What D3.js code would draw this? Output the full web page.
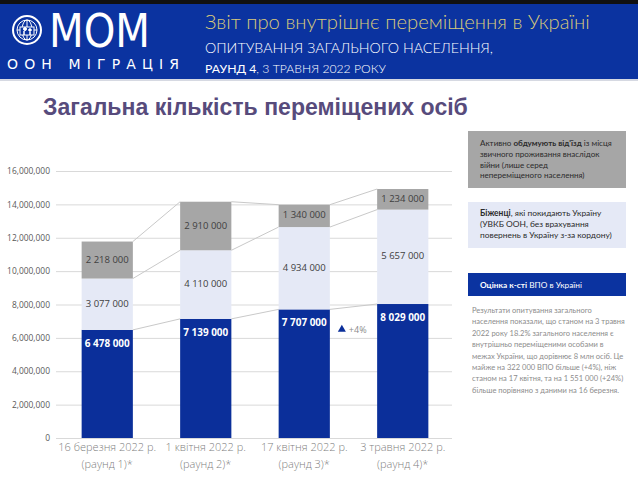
<!DOCTYPE html>
<html>
<head>
<meta charset="utf-8">
<script src="https://cdn.jsdelivr.net/npm/d3@7"></script>
<style>
  html, body { margin: 0; padding: 0; background: #fff; }
  svg { display: block; }
</style>
</head>
<body>
<svg id="chart" width="638" height="478"></svg>
<script>
// chart data
const categories = ["r1", "r2", "r3", "r4"];
const dateLabels = ["16 березня 2022 р.", "1 квітня 2022 р.", "17 квітня 2022 р.", "3 травня 2022 р."];
const roundLabels = ["(раунд 1)*", "(раунд 2)*", "(раунд 3)*", "(раунд 4)*"];
const idps = [6478000, 7139000, 7707000, 8029000];
const refugees = [3077000, 4110000, 4934000, 5657000];
const considering = [2218000, 2910000, 1340000, 1234000];
const yTicks = [0, 2000000, 4000000, 6000000, 8000000, 10000000, 12000000, 14000000, 16000000];

const svg = d3.select("#chart");

// scale a text's font so that one measured node spans the given width
function fitSize(sel, node, w) {
  const cur = +sel.attr("font-size");
  const len = node.getComputedTextLength();
  if (len > 0) sel.attr("font-size", (cur * w / len).toFixed(2));
}

// header band
svg.append("rect").attr("x", 0).attr("y", 0).attr("width", 638).attr("height", 4).attr("fill", "#111");
svg.append("rect").attr("x", 0).attr("y", 4).attr("width", 638).attr("height", 75).attr("fill", "#0b33a0");
svg.append("rect").attr("x", 0).attr("y", 79).attr("width", 638).attr("height", 2).attr("fill", "#d6d9e2");

// logo emblem
const logo = svg.append("g").attr("transform", "translate(27,30)").attr("fill", "none").attr("stroke", "#fff");
logo.append("circle").attr("r", 14).attr("stroke-width", 2);
logo.append("circle").attr("r", 10).attr("stroke-width", 1);
logo.append("ellipse").attr("rx", 5).attr("ry", 10).attr("stroke-width", 1);
logo.append("line").attr("x1", -10).attr("x2", 10).attr("y1", 0).attr("y2", 0).attr("stroke-width", 1);
logo.append("line").attr("x1", 0).attr("x2", 0).attr("y1", -10).attr("y2", 10).attr("stroke-width", 1);
logo.append("rect").attr("x", -7).attr("y", -3).attr("width", 14).attr("height", 8).attr("fill", "#0b33a0").attr("stroke-width", 1);
logo.append("circle").attr("cx", -2).attr("cy", -1).attr("r", 1.5).attr("fill", "#fff");
logo.append("circle").attr("cx", 3).attr("cy", 0).attr("r", 1.3).attr("fill", "#fff");
logo.append("path").attr("d", "M-3,1 L-3,5 M3,2 L3,5").attr("stroke-width", 1.5);

const mom = svg.append("text").attr("x", 49).attr("y", 47).attr("fill", "#fff")
  .attr("font-family", "'DejaVu Sans', sans-serif").attr("font-size", 46).attr("font-weight", 400)
  .attr("textLength", 101).attr("lengthAdjust", "spacingAndGlyphs").text("МОМ");
svg.append("text").attr("x", 7).attr("y", 69).attr("fill", "#fff")
  .attr("font-family", "'DejaVu Sans', sans-serif").attr("font-size", 14)
  .attr("textLength", 172).text("ООН МІГРАЦІЯ");

const h1 = svg.append("text").attr("x", 205).attr("y", 29).attr("fill", "#d8c97b")
  .attr("font-family", "Lato, sans-serif").attr("font-size", 20).attr("font-weight", 300)
  .text("Звіт про внутрішнє переміщення в Україні");
fitSize(h1, h1.node(), 385);
const h2 = svg.append("text").attr("x", 205).attr("y", 53).attr("fill", "#fff")
  .attr("font-family", "Lato, sans-serif").attr("font-size", 14).attr("font-weight", 300)
  .text("ОПИТУВАННЯ ЗАГАЛЬНОГО НАСЕЛЕННЯ,");
fitSize(h2, h2.node(), 288);
const r4 = svg.append("text").attr("x", 205).attr("y", 73).attr("fill", "#fff")
  .attr("font-family", "Lato, sans-serif").attr("font-size", 14);
r4.append("tspan").attr("font-weight", 400).text("РАУНД 4");
r4.append("tspan").attr("font-weight", 300).text(", 3 ТРАВНЯ 2022 РОКУ");
fitSize(r4, r4.node(), 181);

// title
const title = svg.append("text").attr("x", 43).attr("y", 115).attr("fill", "#574b7c")
  .attr("font-family", "'Liberation Sans', Arial, sans-serif").attr("font-size", 21).attr("font-weight", 700)
  .text("Загальна кількість переміщених осіб");
fitSize(title, title.node(), 425);

// scales
const x = d3.scaleBand().domain(categories).range([58, 452]).paddingInner(0.48).paddingOuter(0.24);
const y = d3.scaleLinear().domain([0, 16000000]).range([438, 171]);

// gridlines + y axis
const yAxis = d3.axisLeft(y).tickValues(yTicks).tickSize(-396).tickFormat(d3.format(","));
const gy = svg.append("g").attr("transform", "translate(56,0)").call(yAxis);
gy.select(".domain").remove();
gy.selectAll(".tick line").attr("stroke", "#d9d9d9").attr("stroke-width", 1);
gy.selectAll(".tick text").attr("x", -6).attr("fill", "#595959")
  .attr("font-family", "'Open Sans', sans-serif").attr("font-size", 9);
gy.attr("font-size", null);
{
  const top = gy.selectAll(".tick text").filter(d => d === 16000000);
  const cur = 9, len = top.node().getComputedTextLength();
  gy.selectAll(".tick text").attr("font-size", (cur * 43 / len).toFixed(2));
}

// stacked data
const rows = categories.map((c, i) => ({ cat: c, idps: idps[i], refugees: refugees[i], considering: considering[i] }));
const keys = ["idps", "refugees", "considering"];
const colors = { idps: "#0b2f9a", refugees: "#e5e9f6", considering: "#a6a6a6" };
const stacked = d3.stack().keys(keys)(rows);

// connector lines between bars
stacked.forEach(layer => {
  for (let i = 0; i < layer.length - 1; i++) {
    svg.append("line")
      .attr("x1", x(categories[i]) + x.bandwidth()).attr("y1", y(layer[i][1]))
      .attr("x2", x(categories[i + 1])).attr("y2", y(layer[i + 1][1]))
      .attr("stroke", "#c9c9c9").attr("stroke-width", 1);
  }
});

// bars
stacked.forEach(layer => {
  svg.append("g").selectAll("rect").data(layer).join("rect")
    .attr("x", (d, i) => x(categories[i]))
    .attr("y", d => y(d[1]))
    .attr("width", x.bandwidth())
    .attr("height", d => y(d[0]) - y(d[1]))
    .attr("fill", colors[layer.key]);
});

const fmt = v => d3.format(",")(v).replace(/,/g, " ");

// value labels
stacked.forEach(layer => {
  const isBlue = layer.key === "idps";
  const g = svg.append("g")
    .attr("font-family", "'Open Sans', sans-serif").attr("font-size", 10)
    .attr("font-weight", isBlue ? 700 : 400)
    .attr("fill", isBlue ? "#fff" : "#404040");
  const t = g.selectAll("text").data(layer).join("text")
    .attr("x", (d, i) => x(categories[i]) + x.bandwidth() / 2)
    .attr("y", d => isBlue ? y(d[1]) + 14 : (y(d[0]) + y(d[1])) / 2)
    .attr("text-anchor", "middle").attr("dominant-baseline", "middle")
    .text(d => fmt(d.data[layer.key]));
  fitSize(g, t.node(), isBlue ? 45 : 43);
});

// +4% marker
const mx = x(categories[2]) + x.bandwidth() + 12;
svg.append("path").attr("d", d3.symbol(d3.symbolTriangle, 28)()).attr("transform", `translate(${mx},${y(idps[2]) + 20})`).attr("fill", "#0b2f9a");
svg.append("text").attr("x", mx + 7).attr("y", y(idps[2]) + 21).attr("dominant-baseline", "middle")
  .attr("font-family", "'Open Sans', sans-serif").attr("font-size", 9).attr("fill", "#8c8c8c").text("+4%");

// x labels
const xl = svg.append("g").attr("fill", "#7f7f7f")
  .attr("font-family", "'Open Sans', sans-serif").attr("font-size", 11).attr("font-weight", 300);
let firstDate = null;
categories.forEach((c, i) => {
  const t = xl.append("text").attr("text-anchor", "middle");
  const a = t.append("tspan").attr("x", x(c) + x.bandwidth() / 2).attr("y", 451).text(dateLabels[i]);
  t.append("tspan").attr("x", x(c) + x.bandwidth() / 2).attr("y", 468).text(roundLabels[i]);
  if (i === 0) firstDate = a.node();
});
fitSize(xl, firstDate, 98);

// legend boxes
const lf = "Lato, 'Noto Sans', sans-serif";
svg.append("rect").attr("x", 468).attr("y", 131).attr("width", 158).attr("height", 57).attr("fill", "#a6a6a6");
const g1 = svg.append("text").attr("font-family", lf).attr("font-size", 8).attr("fill", "#2b2b2b");
let t1 = g1.append("tspan").attr("x", 480).attr("y", 146);
t1.append("tspan").text("Активно ");
t1.append("tspan").attr("font-weight", 700).text("обдумують від'їзд");
t1.append("tspan").text(" із місця");
g1.append("tspan").attr("x", 480).attr("y", 157).text("звичного проживання внаслідок");
g1.append("tspan").attr("x", 480).attr("y", 167.5).text("війни (лише серед");
g1.append("tspan").attr("x", 480).attr("y", 178).text("непереміщеного населення)");
fitSize(g1, t1.node(), 132);

svg.append("rect").attr("x", 468).attr("y", 202).attr("width", 158).attr("height", 46).attr("fill", "#e5e9f6");
const g2 = svg.append("text").attr("font-family", lf).attr("font-size", 8).attr("fill", "#2b2b2b");
let t2 = g2.append("tspan").attr("x", 480).attr("y", 216);
t2.append("tspan").attr("font-weight", 700).text("Біженці");
t2.append("tspan").text(", які покидають Україну");
g2.append("tspan").attr("x", 480).attr("y", 227).text("(УВКБ ООН, без врахування");
const l3 = g2.append("tspan").attr("x", 480).attr("y", 238).text("повернень в Україну з-за кордону)");
fitSize(g2, l3.node(), 132);

svg.append("rect").attr("x", 468).attr("y", 273).attr("width", 158).attr("height", 23).attr("fill", "#0b33a0");
const t3 = svg.append("text").attr("x", 480).attr("y", 288).attr("font-family", lf).attr("font-size", 8).attr("fill", "#fff");
t3.append("tspan").attr("font-weight", 700).text("Оцінка к-сті");
t3.append("tspan").text(" ВПО в Україні");
fitSize(t3, t3.node(), 102);

// note paragraph
const note = [
  "Результати опитування загального",
  "населення показали, що станом на 3 травня",
  "2022 року 18.2% загального населення є",
  "внутрішньо переміщеними особами в",
  "межах України, що дорівнює 8 млн осіб. Це",
  "майже на 322 000 ВПО більше (+4%), ніж",
  "станом на 17 квітня, та на 1 551 000 (+24%)",
  "більше порівняно з даними на 16 березня."
];
const nt = svg.append("text").attr("font-family", lf).attr("font-size", 8).attr("fill", "#8c8c8c");
let firstNote = null;
note.forEach((line, i) => {
  const s = nt.append("tspan").attr("x", 472).attr("y", 313 + i * 11.4).text(line);
  if (i === 0) firstNote = s.node();
});
fitSize(nt, firstNote, 120);
</script>
</body>
</html>
